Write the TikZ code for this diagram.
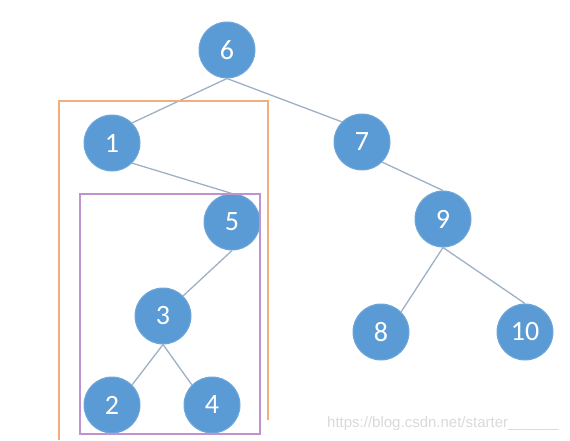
\documentclass[tikz,border=0pt]{standalone}
\usepackage{fontspec}
\setmainfont{Carlito}
\newfontfamily\urlfont{Liberation Sans}
\definecolor{nodeblue}{HTML}{5B9BD5}
\definecolor{nodeedge}{HTML}{6FA6D9}
\definecolor{linkgray}{HTML}{9DB0C6}
\definecolor{boxorange}{HTML}{F2AE7C}
\definecolor{boxpurple}{HTML}{BE93CF}
\begin{document}
\begin{tikzpicture}[x=1pt,y=-1pt,
  treenode/.style={circle,fill=nodeblue,draw=nodeedge,line width=1pt,
    minimum size=56pt,inner sep=0pt,text=white,font=\fontsize{28}{28}\selectfont},
  link/.style={draw=linkgray,line width=1.3pt},
  frame/.style={line width=1.3pt}]
\useasboundingbox (0,0) rectangle (570,440);

% tree nodes
\node[treenode] (n6)  at (227,50)  {6};
\node[treenode] (n1)  at (112,143) {1};
\node[treenode] (n7)  at (362,142) {7};
\node[treenode] (n5)  at (232,222) {5};
\node[treenode] (n9)  at (443,219) {9};
\node[treenode] (n3)  at (163,316) {3};
\node[treenode] (n8)  at (381,332) {8};
\node[treenode] (n10) at (525,332) {10};
\node[treenode] (n2)  at (112,405) {2};
\node[treenode] (n4)  at (212,405) {4};

% edges
\draw[link] (n6.south) -- (n1.north east);
\draw[link] (n6.south) -- (n7.north west);
\draw[link] (n1.south east) -- (n5.north);
\draw[link] (n7.south east) -- (n9.north);
\draw[link] (n5.south) -- (n3.north east);
\draw[link] (n3.south) -- (n2.north east);
\draw[link] (n3.south) -- (n4.north west);
\draw[link] (n9.south) -- (n8.north east);
\draw[link] (n9.south) -- (n10.north);

% subtree frames
\coordinate (oa) at (59,440);
\coordinate (ob) at (59,101);
\coordinate (oc) at (268,101);
\coordinate (od) at (268,420);
\draw[frame,draw=boxorange] (oa) -- (ob) -- (oc) -- (od);
\coordinate (pa) at (80,194);
\coordinate (pb) at (260,434);
\draw[frame,draw=boxpurple] (pa) rectangle (pb);

% watermark
\node[anchor=base west,text=black!15,font=\urlfont\fontsize{15}{16}\selectfont,inner sep=0pt]
  (wm) at (327,427) {https://blog.csdn.net/starter\_\_\_\_\_\_};
\end{tikzpicture}
\end{document}
